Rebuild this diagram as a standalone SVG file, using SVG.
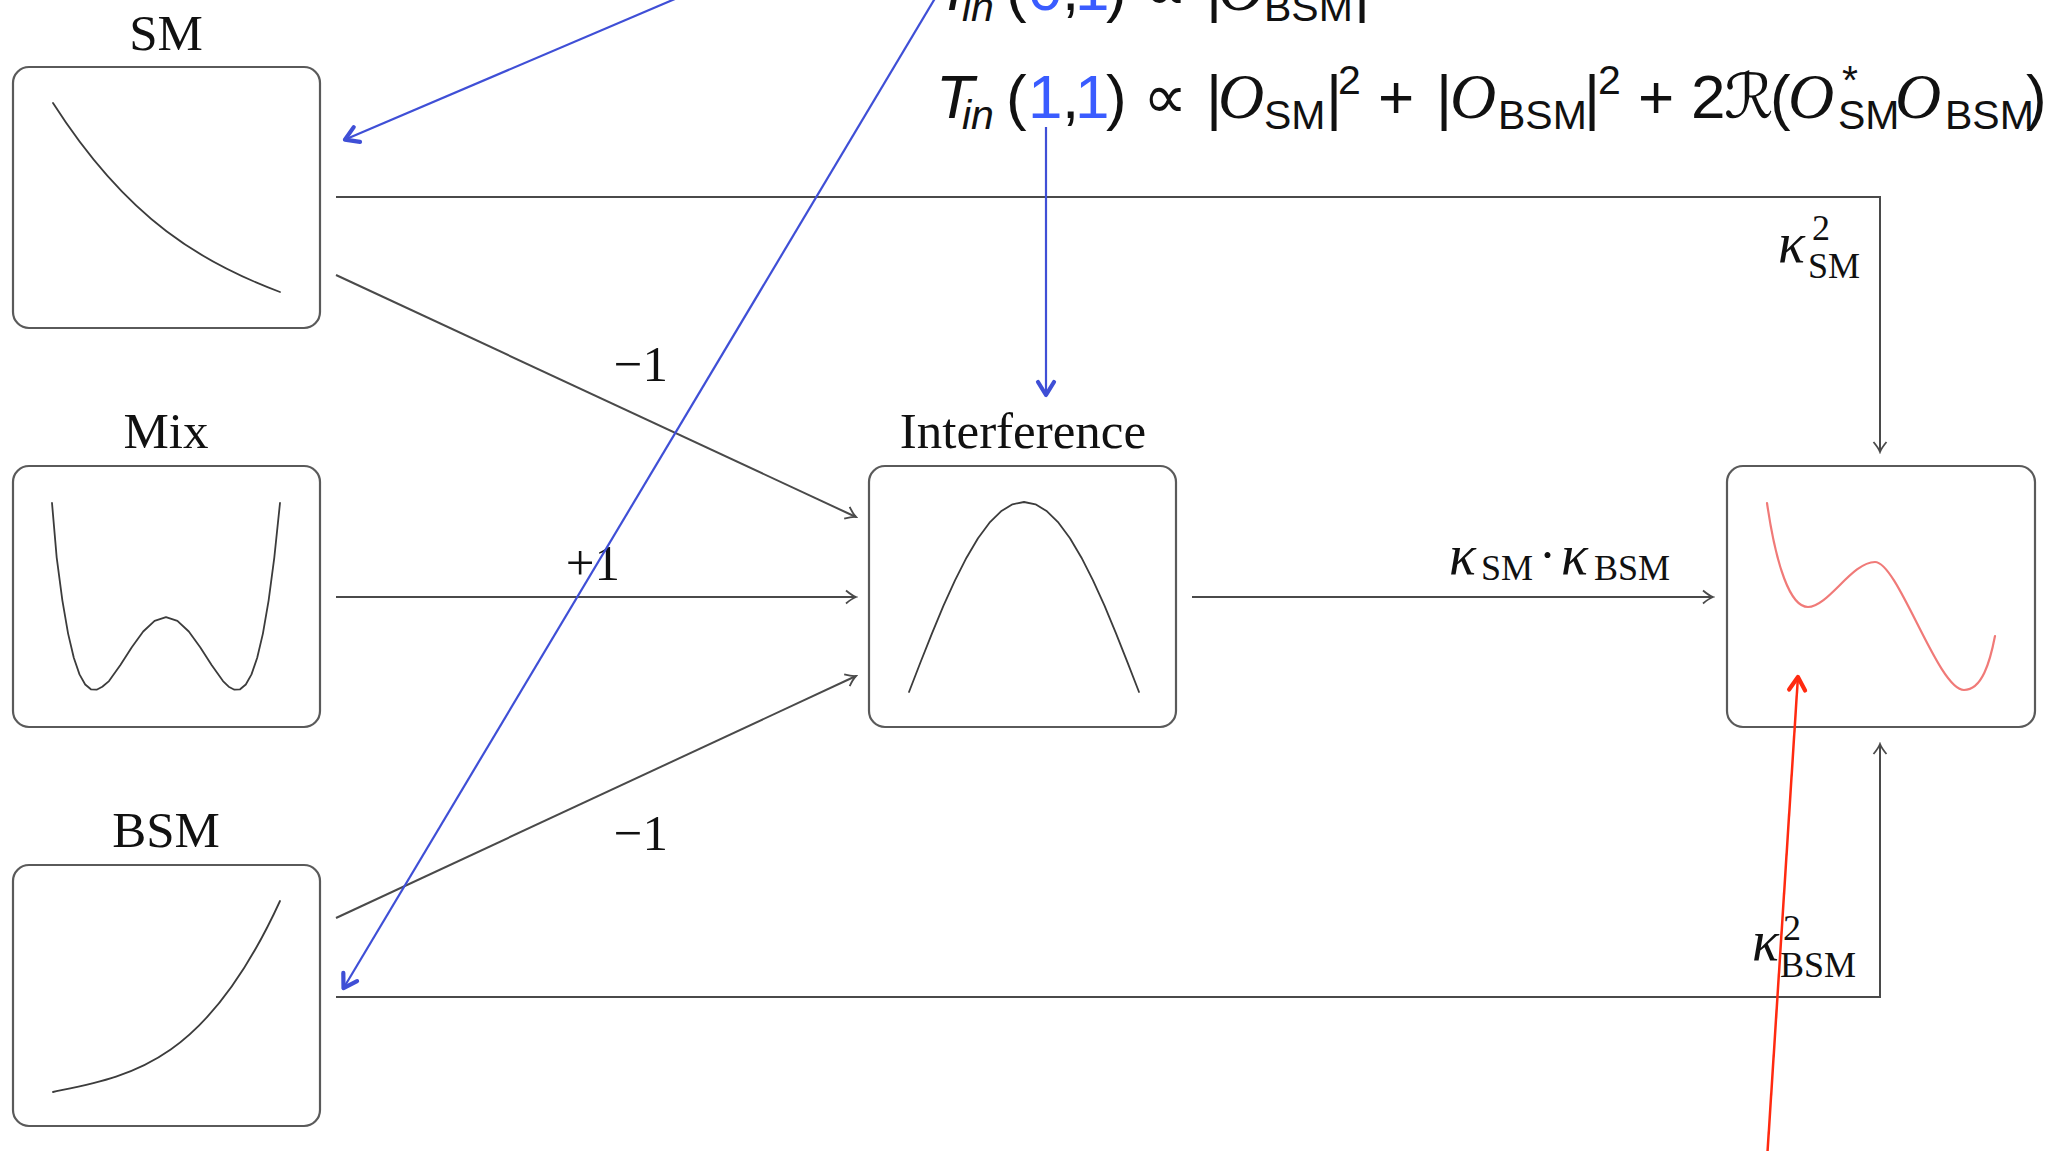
<svg xmlns="http://www.w3.org/2000/svg" width="2049" height="1151" viewBox="0 0 2049 1151">
<style>
.box{fill:#fff;stroke:#5a5a5a;stroke-width:2.2}
.crv{fill:none;stroke:#3c3c3c;stroke-width:1.8;stroke-linejoin:round;stroke-linecap:round}
.red{fill:none;stroke:#f07a78;stroke-width:2.2;stroke-linecap:round}
.con{fill:none;stroke:#4a4a4a;stroke-width:2}
.blue{fill:none;stroke:#3f4fd6;stroke-width:2.2}
.redl{fill:none;stroke:#ff2a10;stroke-width:2.5}
.lab{font-family:"Liberation Serif","Times New Roman",serif;font-size:51px;fill:#111;text-anchor:middle}
.el{font-family:"Liberation Serif","Times New Roman",serif;font-size:51px;fill:#111}
.k{font-style:italic;font-size:56px}
.ss{font-size:36px}
.f{font-family:"Liberation Sans",Arial,sans-serif;font-size:62px;fill:#111}
.o{font-family:"Liberation Serif",serif;font-style:italic;font-size:64px}
.sym{font-family:"DejaVu Sans",sans-serif}
.sc{font-size:41px}
.it{font-style:italic}
.bl{fill:#3a5cff}
</style>
<defs>
<marker id="ag" viewBox="-12 -8 14 16" refX="0" refY="0" markerWidth="14" markerHeight="16" markerUnits="userSpaceOnUse" orient="auto">
<path d="M-10,-6.5 Q-4,-1.5 0,0 Q-4,1.5 -10,6.5" fill="none" stroke="#4a4a4a" stroke-width="1.8"/>
</marker>
<marker id="ab" viewBox="-18 -11 21 22" refX="1" refY="0" markerWidth="21" markerHeight="22" markerUnits="userSpaceOnUse" orient="auto">
<path d="M-13,-8 L0,0 L-13,8" fill="none" stroke="#3f4fd6" stroke-width="4.2" stroke-linecap="round" stroke-linejoin="round"/>
</marker>
<marker id="ar" viewBox="-18 -11 21 22" refX="1" refY="0" markerWidth="21" markerHeight="22" markerUnits="userSpaceOnUse" orient="auto">
<path d="M-13,-8 L0,0 L-13,8" fill="none" stroke="#ff2a10" stroke-width="4.2" stroke-linecap="round" stroke-linejoin="round"/>
</marker>
</defs>
<rect width="2049" height="1151" fill="#fff"/>

<g id="formula" class="f">
<text>
<tspan class="it" x="936" y="10">T</tspan><tspan class="it sc" x="962" y="21">in</tspan><tspan x="1006" y="10">(</tspan><tspan class="bl" x="1028" y="10">0</tspan><tspan x="1062" y="10">,</tspan><tspan class="bl" x="1075" y="10">1</tspan><tspan x="1106" y="10">)</tspan><tspan class="sym" x="1143" y="10">∝</tspan><tspan x="1206" y="10">|</tspan><tspan class="o" x="1218" y="10">O</tspan><tspan class="sc" x="1264" y="21">BSM</tspan><tspan x="1354" y="10">|</tspan>
</text>
<text>
<tspan class="it" x="936" y="118">T</tspan><tspan class="it sc" x="962" y="129">in</tspan><tspan x="1006" y="118">(</tspan><tspan class="bl" x="1028" y="118">1</tspan><tspan x="1062" y="118">,</tspan><tspan class="bl" x="1075" y="118">1</tspan><tspan x="1106" y="118">)</tspan><tspan class="sym" x="1143" y="118">∝</tspan><tspan x="1206" y="118">|</tspan><tspan class="o" x="1218" y="118">O</tspan><tspan class="sc" x="1264" y="129">SM</tspan><tspan x="1326" y="118">|</tspan><tspan class="sc" x="1338" y="94">2</tspan><tspan x="1378" y="118">+</tspan><tspan x="1436" y="118">|</tspan><tspan class="o" x="1450" y="118">O</tspan><tspan class="sc" x="1498" y="129">BSM</tspan><tspan x="1584" y="118">|</tspan><tspan class="sc" x="1598" y="94">2</tspan><tspan x="1638" y="118">+</tspan><tspan x="1691" y="118">2</tspan><tspan class="sym" x="1724" y="118">ℛ</tspan><tspan x="1770" y="118">(</tspan><tspan class="o" x="1788" y="118">O</tspan><tspan class="sc" x="1842" y="94">*</tspan><tspan class="sc" x="1838" y="129">SM</tspan><tspan class="o" x="1895" y="118">O</tspan><tspan class="sc" x="1945" y="129">BSM</tspan><tspan x="2026" y="118">)</tspan>
</text>
</g>

<g id="node-sm">
<text class="lab" x="166" y="50">SM</text>
<rect class="box" x="13" y="67" width="307" height="261" rx="16"/>
<path class="crv" d="M53,103 C128.7,221.5 204.3,263.6 280,292"/>
</g>
<g id="node-mix">
<text class="lab" x="166" y="448">Mix</text>
<rect class="box" x="13" y="466" width="307" height="261" rx="16"/>
<polyline class="crv" points="52,503 56.7,557.6 62.4,600.6 68.1,633.6 73.8,657.8 79.5,674.4 85.2,684.5 90.9,689.3 96.6,689.7 102.3,686.7 109,681.1 120.4,665.1 131.8,647.2 143.2,631.5 154.6,620.8 166,617.1 177.4,620.8 188.8,631.5 200.2,647.2 211.6,665.1 223,681.1 228.7,686.7 234.4,689.7 240.1,689.3 245.8,684.5 251.5,674.4 257.2,657.8 262.9,633.6 268.6,600.6 274.3,557.6 280,503"/>
</g>
<g id="node-bsm">
<text class="lab" x="166" y="847">BSM</text>
<rect class="box" x="13" y="865" width="307" height="261" rx="16"/>
<path class="crv" d="M53,1092 C128.7,1076 204.3,1066 280,901"/>
</g>
<g id="node-interference">
<text class="lab" x="1023" y="448">Interference</text>
<rect class="box" x="869" y="466" width="307" height="261" rx="16"/>
<polyline class="crv" points="909,692 920.5,662.3 932,633.3 943.5,605.7 955,580.3 966.5,557.7 978,538.3 989.5,522.7 1001,511.3 1012.5,504.3 1024,502 1035.5,504.3 1047,511.3 1058.5,522.7 1070,538.3 1081.5,557.7 1093,580.3 1104.5,605.7 1116,633.3 1127.5,662.3 1139,692"/>
</g>
<g id="node-result">
<rect class="box" x="1727" y="466" width="308" height="261" rx="16"/>
<path class="red" d="M1767,503 C1776,565 1790,607 1808,607 C1828,607 1852,562 1875,562 C1898,562 1938,690 1964,690 C1982,690 1990,662 1995,636"/>
</g>

<g id="connectors">
<path class="con" d="M336,197 H1880 V452" marker-end="url(#ag)"/>
<path class="con" d="M336,275 L856,517" marker-end="url(#ag)"/>
<path class="con" d="M336,597 H856" marker-end="url(#ag)"/>
<path class="con" d="M336,918 L856,676" marker-end="url(#ag)"/>
<path class="con" d="M1192,597 H1713" marker-end="url(#ag)"/>
<path class="con" d="M336,997 H1880 V744" marker-end="url(#ag)"/>
<text class="el" x="641" y="381" text-anchor="middle">−1</text>
<text class="el" x="593" y="580" text-anchor="middle">+1</text>
<text class="el" x="641" y="850" text-anchor="middle">−1</text>
<text class="el"><tspan class="k" x="1449" y="574">κ</tspan><tspan class="ss" x="1481" y="580">SM</tspan><tspan x="1539" y="572">·</tspan><tspan class="k" x="1561" y="574">κ</tspan><tspan class="ss" x="1594" y="580">BSM</tspan></text>
<text class="el"><tspan class="k" x="1778" y="262">κ</tspan><tspan class="ss" x="1812" y="240">2</tspan><tspan class="ss" x="1808" y="278">SM</tspan></text>
<text class="el"><tspan class="k" x="1752" y="960">κ</tspan><tspan class="ss" x="1783" y="940">2</tspan><tspan class="ss" x="1780" y="977">BSM</tspan></text>
<path class="blue" d="M696,-10 L344,140" marker-end="url(#ab)"/>
<path class="blue" d="M940,-10 L343,989" marker-end="url(#ab)"/>
<path class="blue" d="M1046,127 V396" marker-end="url(#ab)"/>
<path class="redl" d="M1767,1160 L1798,676" marker-end="url(#ar)"/>
</g>
</svg>
